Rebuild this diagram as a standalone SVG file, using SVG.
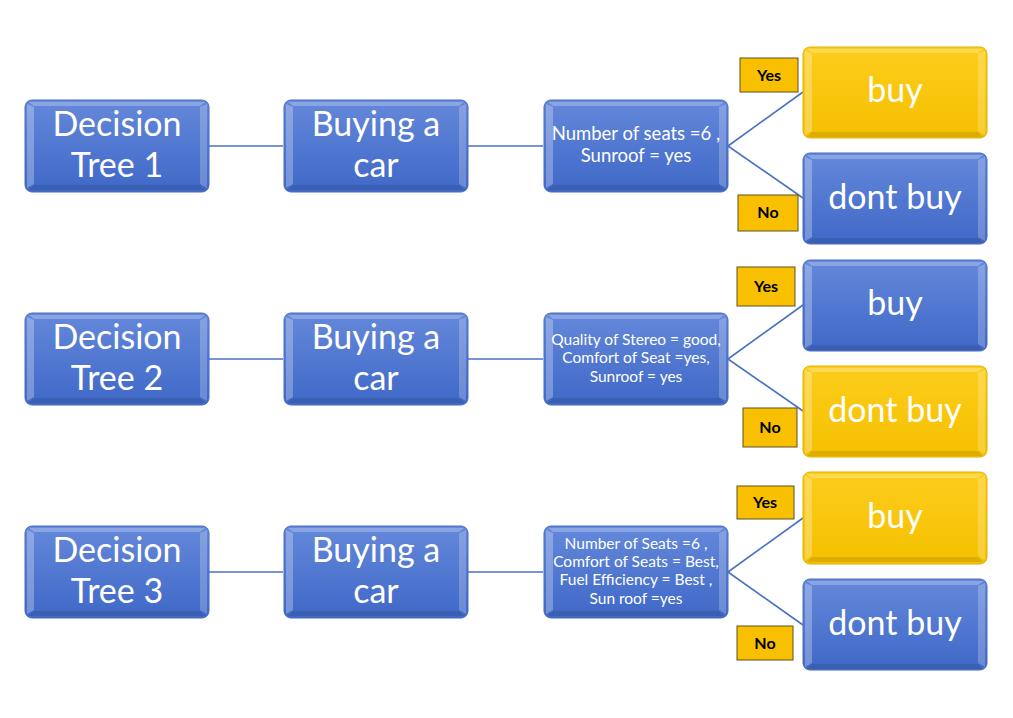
<svg xmlns="http://www.w3.org/2000/svg" xmlns:xlink="http://www.w3.org/1999/xlink" width="1013" height="718" viewBox="0 0 1013 718">
<defs>
<linearGradient id="gBlue" x1="0" y1="0" x2="0" y2="1">
<stop offset="0" stop-color="#6488DA"/>
<stop offset="1" stop-color="#3F68C7"/>
</linearGradient>
<linearGradient id="gGold" x1="0" y1="0" x2="0" y2="1">
<stop offset="0" stop-color="#FDCD1C"/>
<stop offset="1" stop-color="#F5C000"/>
</linearGradient>
<symbol id="bevel" viewBox="0 0 184 92" width="184" height="92" overflow="visible">
<path d="M4,2 H180 L175,6 H9 Z" fill="#ffffff" fill-opacity="0.25"/>
<path d="M2,4 L9,7 V84 L2,88 Z" fill="#ffffff" fill-opacity="0.28"/>
<path d="M182,4 L175,7 V84 L182,88 Z" fill="#ffffff" fill-opacity="0.22"/>
<path d="M4,90 L9,85 H175 L180,90 Z" fill="#000000" fill-opacity="0.1"/>
</symbol>
<style>
.blue{fill:url(#gBlue);stroke:#4A6DBC;stroke-width:1}
.gold{fill:url(#gGold);stroke:#E3B200;stroke-width:1}
.big{font-family:Lato,"Liberation Sans",sans-serif;font-size:34px;fill:#ffffff;text-anchor:middle}
.mid{font-family:Lato,"Liberation Sans",sans-serif;font-size:18.5px;fill:#ffffff;text-anchor:middle}
.small{font-family:Lato,"Liberation Sans",sans-serif;font-size:15.5px;fill:#ffffff;text-anchor:middle}
.lbl{fill:#F8C000;stroke:#5E5020;stroke-width:1}
.lbltxt{font-family:Lato,"Liberation Sans",sans-serif;font-size:16px;font-weight:bold;fill:#000000;text-anchor:middle}
.conn{stroke:#4A72C2;stroke-width:1.6;fill:none}
</style>
</defs>
<rect width="1013" height="718" fill="#ffffff"/>

<g id="connectors">
<line class="conn" x1="209" y1="146" x2="283" y2="146"/>
<line class="conn" x1="468" y1="146" x2="543" y2="146"/>
<line class="conn" x1="728" y1="146" x2="803" y2="92"/>
<line class="conn" x1="728" y1="146" x2="803" y2="198"/>
<line class="conn" x1="209" y1="359" x2="283" y2="359"/>
<line class="conn" x1="468" y1="359" x2="543" y2="359"/>
<line class="conn" x1="728" y1="359" x2="803" y2="305"/>
<line class="conn" x1="728" y1="359" x2="803" y2="411"/>
<line class="conn" x1="209" y1="572" x2="283" y2="572"/>
<line class="conn" x1="468" y1="572" x2="543" y2="572"/>
<line class="conn" x1="728" y1="572" x2="803" y2="518"/>
<line class="conn" x1="728" y1="572" x2="803" y2="625"/>
</g>

<!-- Row 1 -->
<g id="tree1">
<rect class="blue" x="25" y="100" width="184" height="92" rx="7"/>
<use xlink:href="#bevel" x="25" y="100"/>
<text class="big" x="117" y="136">Decision</text>
<text class="big" x="117" y="177">Tree 1</text>
</g>
<g id="car1">
<rect class="blue" x="284" y="100" width="184" height="92" rx="7"/>
<use xlink:href="#bevel" x="284" y="100"/>
<text class="big" x="376" y="136">Buying a</text>
<text class="big" x="376" y="177">car</text>
</g>
<g id="cond1">
<rect class="blue" x="544" y="100" width="184" height="92" rx="7"/>
<use xlink:href="#bevel" x="544" y="100"/>
<text class="mid" x="636" y="140">Number of seats =6 ,</text>
<text class="mid" x="636" y="162">Sunroof = yes</text>
</g>
<g id="buy1">
<rect class="gold" x="803" y="47" width="184" height="91" rx="7"/>
<use xlink:href="#bevel" x="803" y="47"/>
<text class="big" x="895" y="102">buy</text>
</g>
<g id="dontbuy1">
<rect class="blue" x="803" y="153" width="184" height="91" rx="7"/>
<use xlink:href="#bevel" x="803" y="153"/>
<text class="big" x="895" y="209">dont buy</text>
</g>
<g id="yes1">
<rect class="lbl" x="740" y="58" width="58" height="34"/>
<text class="lbltxt" x="769" y="81">Yes</text>
</g>
<g id="no1">
<rect class="lbl" x="738" y="195" width="60" height="36"/>
<text class="lbltxt" x="768" y="218">No</text>
</g>

<!-- Row 2 -->
<g id="tree2">
<rect class="blue" x="25" y="313" width="184" height="92" rx="7"/>
<use xlink:href="#bevel" x="25" y="313"/>
<text class="big" x="117" y="349">Decision</text>
<text class="big" x="117" y="390">Tree 2</text>
</g>
<g id="car2">
<rect class="blue" x="284" y="313" width="184" height="92" rx="7"/>
<use xlink:href="#bevel" x="284" y="313"/>
<text class="big" x="376" y="349">Buying a</text>
<text class="big" x="376" y="390">car</text>
</g>
<g id="cond2">
<rect class="blue" x="544" y="313" width="184" height="92" rx="7"/>
<use xlink:href="#bevel" x="544" y="313"/>
<text class="small" x="636" y="345">Quality of Stereo = good,</text>
<text class="small" x="636" y="363">Comfort of Seat =yes,</text>
<text class="small" x="636" y="382">Sunroof = yes</text>
</g>
<g id="buy2">
<rect class="blue" x="803" y="260" width="184" height="91" rx="7"/>
<use xlink:href="#bevel" x="803" y="260"/>
<text class="big" x="895" y="315">buy</text>
</g>
<g id="dontbuy2">
<rect class="gold" x="803" y="366" width="184" height="91" rx="7"/>
<use xlink:href="#bevel" x="803" y="366"/>
<text class="big" x="895" y="422">dont buy</text>
</g>
<g id="yes2">
<rect class="lbl" x="737" y="267" width="58" height="39"/>
<text class="lbltxt" x="766" y="292">Yes</text>
</g>
<g id="no2">
<rect class="lbl" x="743" y="408" width="54" height="39"/>
<text class="lbltxt" x="770" y="433">No</text>
</g>

<!-- Row 3 -->
<g id="tree3">
<rect class="blue" x="25" y="526" width="184" height="92" rx="7"/>
<use xlink:href="#bevel" x="25" y="526"/>
<text class="big" x="117" y="562">Decision</text>
<text class="big" x="117" y="603">Tree 3</text>
</g>
<g id="car3">
<rect class="blue" x="284" y="526" width="184" height="92" rx="7"/>
<use xlink:href="#bevel" x="284" y="526"/>
<text class="big" x="376" y="562">Buying a</text>
<text class="big" x="376" y="603">car</text>
</g>
<g id="cond3">
<rect class="blue" x="544" y="526" width="184" height="92" rx="7"/>
<use xlink:href="#bevel" x="544" y="526"/>
<text class="small" x="636" y="549">Number of Seats =6 ,</text>
<text class="small" x="636" y="567">Comfort of Seats = Best,</text>
<text class="small" x="636" y="585">Fuel Efficiency = Best ,</text>
<text class="small" x="636" y="604">Sun roof =yes</text>
</g>
<g id="buy3">
<rect class="gold" x="803" y="472" width="184" height="92" rx="7"/>
<use xlink:href="#bevel" x="803" y="472"/>
<text class="big" x="895" y="528">buy</text>
</g>
<g id="dontbuy3">
<rect class="blue" x="803" y="579" width="184" height="91" rx="7"/>
<use xlink:href="#bevel" x="803" y="579"/>
<text class="big" x="895" y="635">dont buy</text>
</g>
<g id="yes3">
<rect class="lbl" x="737" y="486" width="57" height="33"/>
<text class="lbltxt" x="765" y="508">Yes</text>
</g>
<g id="no3">
<rect class="lbl" x="737" y="626" width="56" height="34"/>
<text class="lbltxt" x="765" y="649">No</text>
</g>
</svg>
